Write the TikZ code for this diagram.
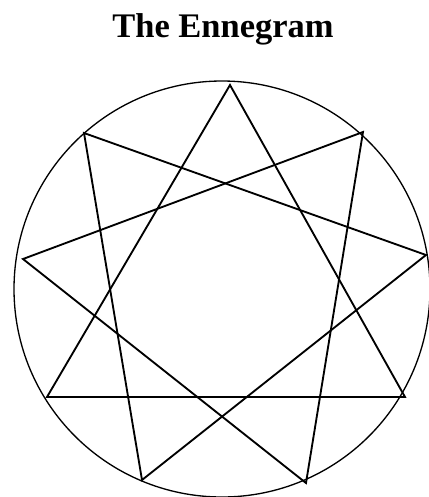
\documentclass[tikz,border=0pt]{standalone}
\usepackage{fontspec}
\setmainfont{Liberation Serif}
\begin{document}
\begin{tikzpicture}[x=0.0265cm, y=-0.0265cm,
    ring/.style={line width=1pt},
    star/.style={line width=1.4pt, line join=miter}]
    \useasboundingbox (0,0) rectangle (429,497);
    \node[anchor=base, inner sep=0pt, font=\bfseries\fontsize{26}{30}\selectfont] (title) at (223,37) {The Ennegram};
    % outer circle
    \coordinate (c) at (222,289);
    \draw[ring] (c) circle[radius=208];
    % the nine points, 9 at the top, then clockwise
    \coordinate (p9) at (230,85);
    \coordinate (p1) at (363,132);
    \coordinate (p2) at (426,255);
    \coordinate (p3) at (405,397);
    \coordinate (p4) at (306,483);
    \coordinate (p5) at (142,480);
    \coordinate (p6) at (47,397);
    \coordinate (p7) at (23,259);
    \coordinate (p8) at (84,133);
    \draw[star] (p9) -- (p3) -- (p6) -- cycle;
    \draw[star] (p8) -- (p2) -- (p5) -- cycle;
    \draw[star] (p1) -- (p7) -- (p4) -- cycle;
\end{tikzpicture}
\end{document}
